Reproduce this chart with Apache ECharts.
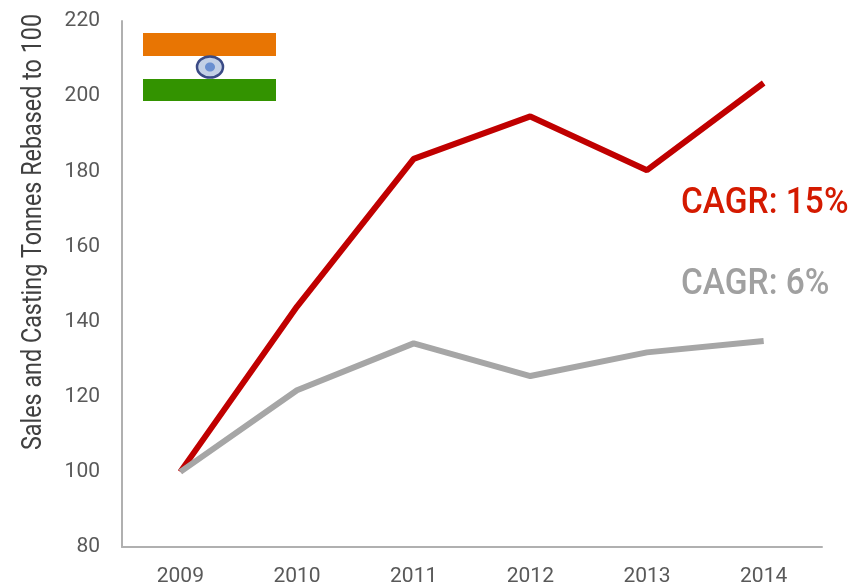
<!DOCTYPE html>
<html>
<head>
    <meta charset="utf-8">
    <title>Sales and Casting Tonnes</title>
    <script src="https://cdn.jsdelivr.net/npm/echarts@6/dist/echarts.min.js"></script>
    <style>
        html, body { margin: 0; padding: 0; background: #fff; }
        #chart { width: 860px; height: 587px; }
    </style>
</head>
<body>
    <div id="chart"></div>
    <script>
        var years = ['2009', '2010', '2011', '2012', '2013', '2014'];
        var redValues = [100, 144, 183.3, 194.6, 180.3, 203.5];
        var greyValues = [100, 121.7, 134.2, 125.5, 131.8, 134.8];
        var yTitle = 'Sales and Casting Tonnes Rebased to 100';
        var redLabel = 'CAGR: 15%';
        var greyLabel = 'CAGR: 6%';

        var font = 'Roboto, sans-serif';
        var chart = echarts.init(document.getElementById('chart'));

        chart.setOption({
            animation: false,
            grid: { left: 122, right: 38, top: 21, bottom: 40 },
            xAxis: {
                type: 'category',
                data: years,
                axisLine: { lineStyle: { color: '#b0b0b0', width: 2 } },
                axisTick: { show: false },
                axisLabel: { color: '#595959', fontFamily: font, fontSize: 21, margin: 19 }
            },
            yAxis: {
                type: 'value',
                min: 80,
                max: 220,
                interval: 20,
                axisLine: { show: true, lineStyle: { color: '#b0b0b0', width: 2 } },
                axisTick: { show: false },
                splitLine: { show: false },
                axisLabel: { color: '#595959', fontFamily: font, fontSize: 21, margin: 22, padding: [2, 0, 0, 0] }
            },
            series: [
                {
                    name: 'Red',
                    type: 'line',
                    data: redValues,
                    symbol: 'none',
                    lineStyle: { color: '#c00000', width: 6 }
                },
                {
                    name: 'Grey',
                    type: 'line',
                    data: greyValues,
                    symbol: 'none',
                    lineStyle: { color: '#a6a6a6', width: 6 }
                }
            ],
            graphic: [
                // 旗帜
                { type: 'rect', shape: { x: 143, y: 33, width: 133, height: 23 }, style: { fill: '#e87503' } },
                { type: 'rect', shape: { x: 143, y: 79, width: 133, height: 22 }, style: { fill: '#339300' } },
                { type: 'ellipse', shape: { cx: 210, cy: 67, rx: 13, ry: 10.5 }, style: { fill: '#c3d0e6', stroke: '#3a4a85', lineWidth: 2.5 } },
                { type: 'ellipse', shape: { cx: 210, cy: 67, rx: 5, ry: 4.5 }, style: { fill: '#6a8fd0' } },
                // 纵轴标题和标注，横向压缩成窄字体的宽度
                {
                    type: 'text', x: 34, y: 232, rotation: Math.PI / 2, scaleX: 0.865,
                    style: { text: yTitle, fill: '#404040', font: '27px ' + font, align: 'center', verticalAlign: 'middle' }
                },
                { type: 'text', x: 681, y: 204, scaleX: 0.93, style: { text: redLabel, fill: '#d41a00', font: '500 36px ' + font, verticalAlign: 'middle' } },
                { type: 'text', x: 681, y: 285, scaleX: 0.93, style: { text: greyLabel, fill: '#a0a0a0', font: '500 36px ' + font, verticalAlign: 'middle' } }
            ]
        });
    </script>
</body>
</html>
